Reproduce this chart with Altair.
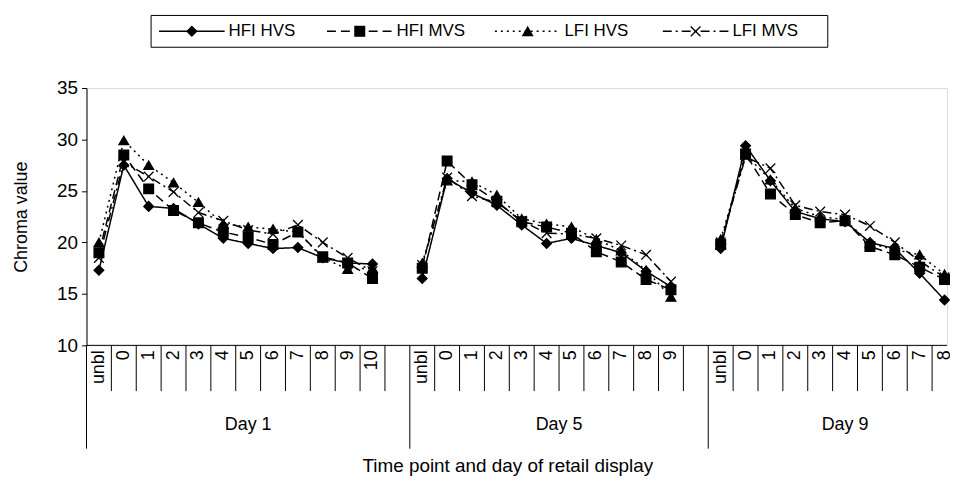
import altair as alt
import pandas as pd

# ---------------- data ----------------
series = ["HFI HVS", "HFI MVS", "LFI HVS", "LFI MVS"]
days = ["Day 1", "Day 5", "Day 9"]
day1_points = ["unbl", "0", "1", "2", "3", "4", "5", "6", "7", "8", "9", "10"]
day5_points = ["unbl", "0", "1", "2", "3", "4", "5", "6", "7", "8", "9"]
day9_points = ["unbl", "0", "1", "2", "3", "4", "5", "6", "7", "8"]

hfi_hvs_day1 = [17.3, 27.5, 23.5, 23.3, 21.8, 20.4, 19.9, 19.4, 19.5, 18.5, 18.0, 17.9]
hfi_mvs_day1 = [19.0, 28.5, 25.2, 23.1, 21.9, 21.0, 20.5, 19.8, 21.0, 18.6, 18.0, 16.5]
lfi_hvs_day1 = [20.0, 29.9, 27.5, 25.8, 23.9, 21.8, 21.5, 21.3, 21.0, 18.5, 17.4, 17.5]
lfi_mvs_day1 = [18.5, 27.8, 26.4, 24.9, 22.9, 22.1, 21.2, 20.8, 21.7, 20.0, 18.5, 17.2]

hfi_hvs_day5 = [16.5, 26.2, 24.8, 23.6, 21.7, 19.9, 20.4, 19.7, 19.0, 17.2, 15.7]
hfi_mvs_day5 = [17.5, 27.9, 25.6, 24.0, 22.0, 21.5, 20.9, 19.1, 18.1, 16.4, 15.4]
lfi_hvs_day5 = [18.0, 26.0, 25.9, 24.6, 22.3, 21.8, 21.5, 20.3, 19.2, 17.3, 14.7]
lfi_mvs_day5 = [17.8, 26.3, 24.5, 23.9, 22.1, 20.9, 20.8, 20.4, 19.7, 18.8, 16.2]

hfi_hvs_day9 = [19.4, 29.4, 26.0, 23.0, 22.3, 22.0, 20.0, 19.4, 17.0, 14.4]
hfi_mvs_day9 = [19.8, 28.6, 24.7, 22.7, 21.9, 22.1, 19.6, 18.8, 17.6, 16.4]
lfi_hvs_day9 = [20.3, 28.5, 26.1, 23.3, 22.5, 22.2, 19.9, 19.3, 18.8, 16.9]
lfi_mvs_day9 = [20.0, 28.3, 27.2, 23.6, 23.0, 22.7, 21.6, 20.0, 18.2, 16.6]

values = {
    "HFI HVS": [hfi_hvs_day1, hfi_hvs_day5, hfi_hvs_day9],
    "HFI MVS": [hfi_mvs_day1, hfi_mvs_day5, hfi_mvs_day9],
    "LFI HVS": [lfi_hvs_day1, lfi_hvs_day5, lfi_hvs_day9],
    "LFI MVS": [lfi_mvs_day1, lfi_mvs_day5, lfi_mvs_day9],
}
points_by_day = [day1_points, day5_points, day9_points]

# ---------------- styles / layout ----------------
FONT = "Liberation Sans"
W, H = 866, 259
XMAX = 34.6
dashes = {"HFI HVS": [1, 0], "HFI MVS": [9, 5], "LFI HVS": [2, 4], "LFI MVS": [9, 4, 2, 4]}
shapes = {"HFI HVS": "diamond", "HFI MVS": "square", "LFI HVS": "triangle-up",
          "LFI MVS": "M-1,-1L1,1M-1,1L1,-1"}
MSIZE = 95

rows, ticks, seps, cats, dlabels = [], [], [], [], []
off = 0
for di, (d, pts) in enumerate(zip(days, points_by_day)):
    n = len(pts)
    for s in series:
        for i, (p, v) in enumerate(zip(pts, values[s][di])):
            rows.append(dict(series=s, day=d, point=p, pos=off + i + 0.5, value=v))
    for i, p in enumerate(pts):
        cats.append(dict(pos=off + i + 0.5, point=p))
    seps.append(dict(b=off))
    for k in range(1, n + 1):
        if off + k <= XMAX:
            ticks.append(dict(b=off + k))
    dlabels.append(dict(c=off + (n + 1) / 2.0, day=d))
    off += n + 1

df = pd.DataFrame(rows)
xscale = alt.Scale(domain=[0, XMAX], nice=False, zero=False)
dash_scale = alt.Scale(domain=series, range=[dashes[s] for s in series])
shape_scale = alt.Scale(domain=series, range=[shapes[s] for s in series])

base = alt.Chart(df)
yenc = alt.Y("value:Q", scale=alt.Scale(domain=[10, 35], nice=False, zero=False),
             axis=alt.Axis(values=[10, 15, 20, 25, 30, 35], tickSize=5, labelPadding=4,
                           labelFont=FONT, labelFontSize=19, labelColor="black",
                           domainColor="black", tickColor="black", grid=False,
                           title="Chroma value", titleFont=FONT, titleFontSize=18,
                           titleFontWeight="normal", titleColor="black",
                           titleX=-65, titleY=H / 2, titleAlign="center",
                           titleBaseline="middle"))
xenc = alt.X("pos:Q", scale=xscale, axis=None)

lines = base.mark_line(color="black", strokeWidth=1.5).encode(
    x=xenc, y=yenc,
    strokeDash=alt.StrokeDash("series:N", scale=dash_scale, legend=None),
    detail="day:N")
pts = base.mark_point(filled=True, fill="black", stroke="black", strokeWidth=1.3,
                      size=MSIZE, opacity=1).encode(
    x=xenc, y="value:Q",
    shape=alt.Shape("series:N", scale=shape_scale, legend=None))

one = pd.DataFrame({"a": [0]})
baseline = alt.Chart(one).mark_rule(color="black", strokeWidth=1).encode(
    x=alt.value(0), x2=alt.value(W), y=alt.value(H))
tick_rules = alt.Chart(pd.DataFrame(ticks)).mark_rule(color="black", strokeWidth=1).encode(
    x=alt.X("b:Q", scale=xscale, axis=None), y=alt.value(H), y2=alt.value(H + 46))
sep_rules = alt.Chart(pd.DataFrame(seps)).mark_rule(color="black", strokeWidth=1).encode(
    x=alt.X("b:Q", scale=xscale, axis=None), y=alt.value(H), y2=alt.value(H + 104))
cat_text = alt.Chart(pd.DataFrame(cats)).mark_text(
    angle=270, align="right", baseline="middle", font=FONT, fontSize=18, color="black").encode(
    x=alt.X("pos:Q", scale=xscale, axis=None), y=alt.value(H + 5), text="point:N")
day_text = alt.Chart(pd.DataFrame(dlabels)).mark_text(
    font=FONT, fontSize=18, color="black", baseline="middle").encode(
    x=alt.X("c:Q", scale=xscale, axis=None), y=alt.value(H + 80), text="day:N")
x_title = alt.Chart(one).mark_text(
    font=FONT, fontSize=19, color="black", baseline="middle").encode(
    x=alt.value(424), y=alt.value(H + 121), text=alt.value("Time point and day of retail display"))

# legend
LEG_Y = -57
legend_layers = [alt.Chart(one).mark_rect(fill="white", stroke="black", strokeWidth=1).encode(
    x=alt.value(65), x2=alt.value(746), y=alt.value(-73), y2=alt.value(-41))]
for k, s in enumerate(series):
    x0 = 73 + 169 * k
    legend_layers.append(alt.Chart(one).mark_rule(
        color="black", strokeWidth=1.5, strokeDash=dashes[s]).encode(
        x=alt.value(x0), x2=alt.value(x0 + 66), y=alt.value(LEG_Y)))
    legend_layers.append(alt.Chart(one).mark_point(
        filled=True, fill="black", stroke="black", strokeWidth=1.3, size=MSIZE, opacity=1,
        shape=shapes[s]).encode(x=alt.value(x0 + 33), y=alt.value(LEG_Y)))
    legend_layers.append(alt.Chart(one).mark_text(
        font=FONT, fontSize=17, color="black", align="left", baseline="middle").encode(
        x=alt.value(x0 + 70), y=alt.value(LEG_Y), text=alt.value(s)))

chart = alt.layer(
    lines, pts, baseline, tick_rules, sep_rules, cat_text, day_text, x_title, *legend_layers
).properties(
    width=W, height=H,
    autosize=alt.AutoSizeParams(type="none"),
    padding={"left": 79, "top": 79, "right": 3, "bottom": 134},
).configure_view(stroke=None).configure(background="white")

chart.save("out.html", embed_options={"renderer": "svg", "actions": False})
